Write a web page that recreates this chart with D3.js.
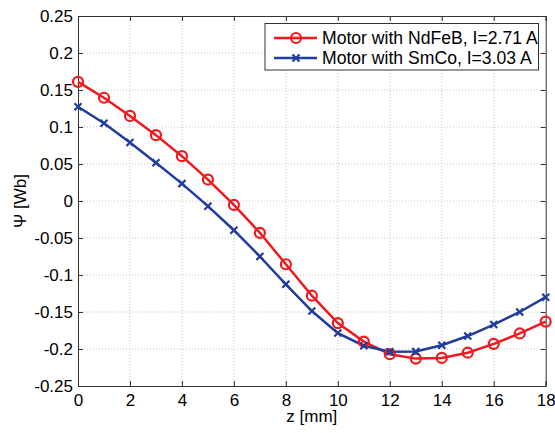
<!DOCTYPE html>
<html><head><meta charset="utf-8">
<script src="https://cdn.jsdelivr.net/npm/d3@7"></script>
<style>body{margin:0;background:#fff}svg{display:block}text{font-family:"Liberation Sans",Arial,sans-serif;fill:#000}</style>
</head><body><svg id="c" width="555" height="433"></svg>
<script>
const z = [0,1,2,3,4,5,6,7,8,9,10,11,12,13,14,15,16,17,18];
const ndfeb = [0.161,0.1395,0.115,0.089,0.0606,0.029,-0.0053,-0.043,-0.0855,-0.128,-0.165,-0.190,-0.207,-0.213,-0.212,-0.205,-0.193,-0.179,-0.163];
const smco = [0.1274,0.105,0.079,0.0516,0.0235,-0.007,-0.0395,-0.075,-0.1126,-0.1487,-0.1785,-0.1956,-0.2037,-0.2033,-0.195,-0.1825,-0.167,-0.150,-0.130];
const xTicks = [0,2,4,6,8,10,12,14,16,18];
const yTicks = [0.25,0.2,0.15,0.1,0.05,0,-0.05,-0.1,-0.15,-0.2,-0.25];
const yTickLabels = ["0.25","0.2","0.15","0.1","0.05","0","-0.05","-0.1","-0.15","-0.2","-0.25"];
const seriesNames = ["Motor with NdFeB, I=2.71 A","Motor with SmCo, I=3.03 A"];
const colors = ["#f0191e","#1f3c9e"];

const L=78,R=545.7,T=16,B=386;
const FS="17px";
const svg=d3.select("#c");
const x=d3.scaleLinear().domain([0,18]).range([L,R]);
const y=d3.scaleLinear().domain([-0.25,0.25]).range([B,T]);
const g=svg.append("g");
// grid
g.selectAll(".gx").data(xTicks.slice(1,-1)).enter().append("line")
 .attr("x1",d=>x(d)).attr("x2",d=>x(d)).attr("y1",T).attr("y2",B)
 .attr("stroke","#c8c8c8").attr("stroke-width",1).attr("stroke-dasharray","1,2");
g.selectAll(".gy").data(yTicks.slice(1,-1)).enter().append("line")
 .attr("y1",d=>y(d)).attr("y2",d=>y(d)).attr("x1",L).attr("x2",R)
 .attr("stroke","#c8c8c8").attr("stroke-width",1).attr("stroke-dasharray","1,2");
// axes
const ax=d3.axisBottom(x).tickValues(xTicks).tickSize(-5).tickPadding(8).tickFormat(d3.format("d"));
const axT=d3.axisTop(x).tickValues(xTicks).tickSize(-5).tickFormat("");
const ay=d3.axisLeft(y).tickValues(yTicks).tickSize(-5).tickPadding(5).tickFormat((d,i)=>yTickLabels[i]);
const ayR=d3.axisRight(y).tickValues(yTicks).tickSize(-5).tickFormat("");
function style(sel){sel.select(".domain").attr("stroke","#333");sel.selectAll(".tick line").attr("stroke","#333");sel.selectAll("text").style("font-size",FS).attr("fill","#000");}
svg.append("g").attr("transform",`translate(0,${B})`).call(ax).call(style);
svg.append("g").attr("transform",`translate(0,${T})`).call(axT).call(style);
svg.append("g").attr("transform",`translate(${L},0)`).call(ay).call(style);
svg.append("g").attr("transform",`translate(${R},0)`).call(ayR).call(style);
svg.selectAll(".domain").attr("stroke-width",1);

// lines
const data=[ndfeb,smco];
const line=d3.line().x((d,i)=>x(z[i])).y(d=>y(d));
data.forEach((s,k)=>{
  svg.append("path").datum(s).attr("d",line).attr("fill","none").attr("stroke",colors[k]).attr("stroke-width",2.5);
});
function marker(sel,k,cx,cy){
  if(k===0){sel.append("circle").attr("cx",cx).attr("cy",cy).attr("r",5).attr("fill","none").attr("stroke",colors[0]).attr("stroke-width",2.2);}
  else{const s=3.5;sel.append("path").attr("d",`M${cx-s},${cy-s}L${cx+s},${cy+s}M${cx-s},${cy+s}L${cx+s},${cy-s}`).attr("stroke",colors[1]).attr("stroke-width",2.2);}
}
data.forEach((s,k)=>{s.forEach((v,i)=>marker(svg,k,x(z[i]),y(v)));});

// labels
svg.append("text").attr("x",(L+R)/2).attr("y",422).attr("text-anchor","middle").style("font-size",FS).text("z [mm]");
svg.append("text").attr("transform",`translate(26,${(T+B)/2}) rotate(-90)`).attr("text-anchor","middle").style("font-size",FS).text("Ψ [Wb]");

// legend
const lg=svg.append("g");
lg.append("rect").attr("x",265).attr("y",23.5).attr("width",273.5).attr("height",46.5).attr("fill","#fff").attr("stroke","#333").attr("stroke-width",1);
seriesNames.forEach((n,k)=>{
  const yy=38+k*20;
  lg.append("line").attr("x1",274).attr("x2",317).attr("y1",yy).attr("y2",yy).attr("stroke",colors[k]).attr("stroke-width",2.5);
  marker(lg,k,296,yy);
  lg.append("text").attr("x",322).attr("y",yy+6).style("font-size","17.6px").text(n);
});
</script></body></html>
